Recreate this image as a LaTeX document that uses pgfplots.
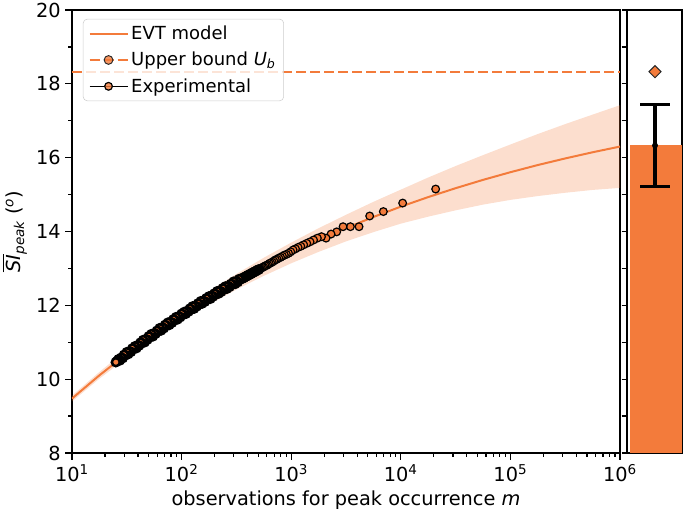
\documentclass[border=0pt]{standalone}
\usepackage{fontspec}
\setmainfont{DejaVu Sans}
\usepackage{amsmath}
\usepackage{pgfplots}
\usepackage{pgfplotstable}
\pgfplotsset{compat=1.18}

\definecolor{evt}{RGB}{243,123,59}

% legend images: a 1cm line, with the marker in its middle
\pgfplotsset{
  evtleg/.style={legend image code/.code={%
    \draw[evt, line width=1.5pt] (0cm,0cm) -- (1cm,0cm);}},
  ubleg/.style={legend image code/.code={%
    \draw[evt, line width=1.5pt, dash pattern=on 7.5pt off 3pt] (0cm,0cm) -- (1cm,0cm);
    \draw[fill=evt, draw=black!85, line width=0.7pt, rotate around={45:(0.5cm,0cm)}]
      (0.5cm,0cm) ++(-3.2pt,-3.2pt) rectangle ++(6.4pt,6.4pt);}},
  expleg/.style={legend image code/.code={%
    \path (0cm,0cm) -- (1cm,0cm);
    \draw[fill=evt, draw=black, line width=0.9pt] (0.5cm,0cm) circle (2.9pt);}},
}

% experimental points, m = block size, in the order of the data (m decreasing)
\pgfplotstableread{
m y
20800 15.15
10400 14.77
6933 14.54
5200 14.42
4160 14.13
3467 14.13
2971 14.13
2600 13.99
2311 13.93
2080 13.82
1891 13.86
1733 13.82
1600 13.77
1486 13.72
1387 13.68
1300 13.64
1224 13.60
1156 13.57
1095 13.53
1040 13.50
990.5 13.45
945.5 13.41
904.3 13.38
866.7 13.36
832 13.33
800 13.30
770.4 13.28
742.9 13.25
717.2 13.23
693.3 13.20
671 13.17
650 13.15
630.3 13.13
611.8 13.10
594.3 13.08
577.8 13.07
562.2 13.04
547.4 13.03
533.3 13.01
520 12.99
}\expsparse

% the dense part, where the points overlap into a black band
\pgfplotstableread{
m y
507.3 12.97
495.2 12.96
483.7 12.94
472.7 12.92
462.2 12.91
452.2 12.89
442.6 12.88
433.3 12.86
424.5 12.85
416 12.83
407.8 12.82
400 12.81
392.5 12.79
385.2 12.78
378.2 12.77
371.4 12.75
364.9 12.74
358.6 12.73
352.5 12.72
346.7 12.71
334.97 12.71
325.46 12.63
316.23 12.65
307.26 12.58
298.54 12.64
290.07 12.57
281.84 12.58
273.84 12.50
266.07 12.52
258.52 12.45
251.19 12.51
244.06 12.44
237.14 12.46
230.41 12.37
223.87 12.39
217.52 12.32
211.35 12.38
205.36 12.30
199.53 12.32
193.87 12.24
188.36 12.26
183.02 12.18
177.83 12.24
172.79 12.17
167.88 12.19
163.12 12.10
158.49 12.12
153.99 12.05
149.62 12.11
145.37 12.03
141.25 12.05
137.24 11.97
133.35 11.98
129.57 11.91
125.89 11.97
122.32 11.89
118.85 11.91
115.48 11.83
112.20 11.84
109.02 11.77
105.93 11.82
102.92 11.75
100 11.77
97.16 11.68
94.41 11.70
91.73 11.62
89.13 11.68
86.60 11.60
84.14 11.62
81.75 11.53
79.43 11.55
77.18 11.47
74.99 11.53
72.86 11.45
70.79 11.47
68.79 11.38
66.83 11.40
64.94 11.32
63.10 11.38
61.31 11.30
59.57 11.31
57.88 11.23
56.23 11.24
54.64 11.16
53.09 11.22
51.58 11.14
50.12 11.16
48.70 11.07
47.32 11.08
45.97 11.00
44.67 11.06
43.40 10.98
42.17 10.99
40.97 10.91
39.81 10.92
38.68 10.84
37.58 10.89
36.52 10.82
35.48 10.83
34.48 10.74
33.50 10.75
32.55 10.68
31.62 10.73
30.73 10.65
29.85 10.66
29.01 10.57
28.18 10.58
27.38 10.51
26.61 10.54
25.85 10.49
25.12 10.46
}\expdense

\begin{document}
\begin{tikzpicture}
\useasboundingbox (-54pt,-47.25pt) rectangle (459pt,339.75pt);
\pgfplotsset{
  every axis/.append style={
    scale only axis, height=332.25pt, ymin=8, ymax=20,
    tick align=outside, xtick pos=bottom, ytick pos=left,
    axis line style={line width=0.9pt},
    every tick/.style={black, line width=0.9pt},
    major tick length=5pt, minor tick length=3pt,
    tick label style={font=\fontsize{14.5}{17}\selectfont},
    label style={font=\fontsize{14.5}{17}\selectfont},
  },
}
\begin{axis}[
  at={(0,0)}, anchor=south west, width=411pt,
  xmode=log, xmin=10, xmax=1e6,
  xtick={10,100,1000,10000,100000,1000000},
  xticklabels={10\textsuperscript{1},10\textsuperscript{2},10\textsuperscript{3},10\textsuperscript{4},10\textsuperscript{5},10\textsuperscript{6}},
  ytick={8,10,...,20}, yticklabels={8,10,12,14,16,18,20},
  minor ytick={9,11,...,19},
  xlabel={observations for peak occurrence \textit{m}},
  ylabel={$\overline{\text{\itshape SI}}_{\text{\itshape peak}}$ (\textsuperscript{\itshape o})},
  legend cell align=left,
  legend style={at={(0.02,0.98)}, anchor=north west, draw=black!20,
    rounded corners=3pt, fill=white, fill opacity=0.8, text opacity=1,
    font=\fontsize{13.5}{16}\selectfont, row sep=4pt, inner xsep=4pt, inner ysep=3pt},
]
\addlegendimage{evtleg}
\addlegendentry{EVT model}
\addlegendimage{ubleg}
\addlegendentry{Upper bound \textit{U}\textsubscript{\itshape b}}
\addlegendimage{expleg}
\addlegendentry{Experimental}

% confidence band
\addplot[forget plot, draw=none, fill=evt, fill opacity=0.25] coordinates {
  (10,9.555) (17.78,10.194) (31.62,10.798) (56.23,11.362) (100,11.886)
  (177.8,12.384) (316.2,12.849) (562.3,13.289) (1000,13.699) (1778,14.088)
  (3162,14.452) (5623,14.803) (10000,15.133) (17783,15.462) (31623,15.773)
  (56234,16.068) (100000,16.356) (177828,16.640) (316228,16.909) (562341,17.166)
  (1000000,17.421)
  (1000000,15.181) (562341,15.126) (316228,15.049) (177828,14.960) (100000,14.856)
  (56234,14.728) (31623,14.573) (17783,14.402) (10000,14.213) (5623,13.983)
  (3162,13.732) (1778,13.448) (1000,13.139) (562.3,12.799) (316.2,12.429)
  (177.8,12.024) (100,11.586) (56.23,11.102) (31.62,10.578) (17.78,10.014)
  (10,9.395)
};
% EVT model
\addplot[forget plot, evt, line width=1.5pt] coordinates {
  (10,9.475) (17.78,10.104) (31.62,10.688) (56.23,11.232) (100,11.736)
  (177.8,12.204) (316.2,12.639) (562.3,13.044) (1000,13.419) (1778,13.768)
  (3162,14.092) (5623,14.393) (10000,14.673) (17783,14.932) (31623,15.173)
  (56234,15.398) (100000,15.606) (177828,15.800) (316228,15.979) (562341,16.146)
  (1000000,16.301)
};
% upper bound
\addplot[forget plot, evt, line width=1.5pt, dash pattern=on 7.5pt off 3pt] coordinates {(10,18.33) (1000000,18.33)};
% experimental
\addplot[forget plot, only marks, mark=*, mark size=2.9pt,
  mark options={fill=evt, draw=black, line width=0.9pt}] table[x=m, y=y] {\expsparse};
\addplot[forget plot, only marks, mark=*, mark size=3.0pt,
  mark options={fill=evt, draw=black, line width=1.9pt}] table[x=m, y=y] {\expdense};
\end{axis}

\begin{axis}[
  at={(416.25pt,0)}, anchor=south west, width=41.25pt,
  xmin=0, xmax=55, xtick=\empty,
  ytick={8,...,20}, yticklabels={},
  major tick length=4pt,
]
\addplot[ybar, bar width=52, fill=evt, draw=none] coordinates {(28.5,16.33)};
\addplot[only marks, mark=none, black,
  error bars/.cd, y dir=both, y explicit,
  error bar style={line width=2.4pt, black},
  error mark options={rotate=90, mark size=10.9pt, line width=2.4pt, black}]
  coordinates {(28,16.33) +- (0,1.12)};
\addplot[only marks, mark=square*, mark size=3.2pt,
  mark options={rotate=45, fill=evt, draw=black!85, line width=0.7pt}]
  coordinates {(28,18.33)};
\end{axis}
\end{tikzpicture}
\end{document}
